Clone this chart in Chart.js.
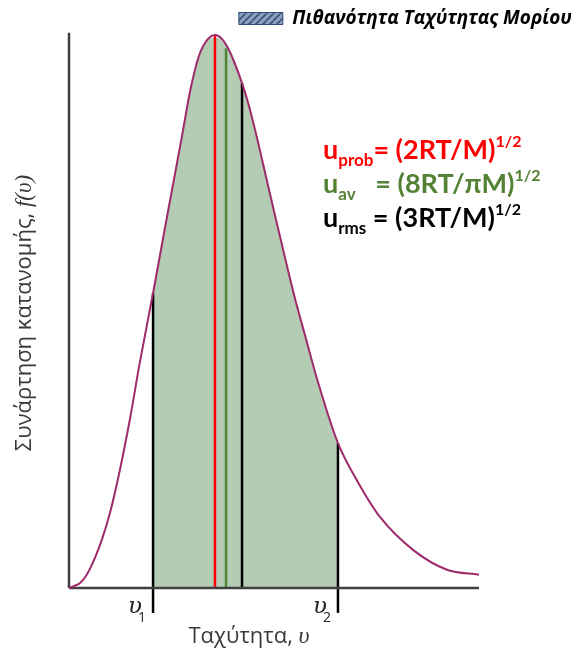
<!DOCTYPE html>
<html><head><meta charset="utf-8">
<script src="https://cdn.jsdelivr.net/npm/chart.js@4.4.1/dist/chart.umd.min.js"></script>
<style>html,body{margin:0;padding:0;background:#fff}#wrap{width:581px;height:653px;position:relative}</style>
</head><body><div id="wrap"><canvas id="c"></canvas></div>
<script>
// Speed (relative units) and distribution function f(v) (relative, peak = 100)
const speeds  = [0,1,2.7,4.4,6.3,8.0,10.0,12.4,14.9,17.3,20.5,23.4,25.4,27.6,29.5,31.5,33.2,35.6,37.3,38.5,40.2,42.2,43.7,45.4,47.8,50.2,52.7,55.1,57.6,60.7,65.6,70.2,75.9,83.9,92.2,100];
const density = [0,0.3,0.9,2.5,5.4,8.7,13.6,21.3,30.7,40.9,53.3,65.1,73.1,81.9,89.7,95.8,98.6,100,99.3,98.0,95.3,91.3,87.7,82.8,75.2,67.5,59.7,52.4,45.6,37.3,26.2,19.5,12.8,6.9,3.3,2.4];
// Characteristic speeds: v1, u_prob, u_av, u_rms, v2
const markerNames   = ['v1','uprob','uav','urms','v2'];
const markerSpeeds  = [20.5,35.6,38.3,42.2,65.6];
const markerHeights = [53.3,100,97.6,91.3,26.2];
const markerBottoms = [-4.5,0,0,0,-4.5];
const axisTop = 100.4;
const legendLabel = 'Πιθανότητα Ταχύτητας Μορίου';
const xTitle = 'Ταχύτητα, ';
const xTitleVar = 'υ';
const yTitle = 'Συνάρτηση κατανομής, ';
const yTitleVar = 'f(υ)';
const formulaLines = [
  {main:'u', sub:'prob', rest:'= (2RT/M)', sup:'1/2'},
  {main:'u', sub:'av',   rest:'   = (8RT/πM)', sup:'1/2'},
  {main:'u', sub:'rms',  rest:' = (3RT/M)', sup:'1/2'}
];

const markerColors = ['#000000','#ff0000','#548235','#000000','#000000'];
const formulaColors = ['#ff0000','#548235','#000000'];
const fillColor = '#b5ccb4';
const axisColor = '#404040';

const pattern = (()=>{
  const c=document.createElement('canvas'); c.width=7; c.height=7; const g=c.getContext('2d');
  g.fillStyle='#8b9fbf'; g.fillRect(0,0,7,7);
  g.strokeStyle='#3e5579'; g.lineWidth=1.8;
  for (const o of [-7,0,7]) { g.beginPath(); g.moveTo(o,7); g.lineTo(o+7,0); g.stroke(); }
  return g.createPattern(c,'repeat');
})();

const curvePts = speeds.map((s,i)=>({x:s,y:density[i]}));

function drawRuns(ctx, x, y, runs, align){
  let w=0; runs.forEach(r=>{ctx.font=r[1]; r.w=ctx.measureText(r[0]).width; w+=r.w;});
  let cx = align==='center'? x-w/2 : align==='right'? x-w : x;
  runs.forEach(r=>{ctx.font=r[1]; ctx.fillStyle=r[2]; ctx.fillText(r[0], cx, y+(r[3]||0)); cx+=r.w;});
  return w;
}

const textPlugin = {
  id:'texts',
  afterDraw(chart){
    const ctx=chart.ctx, xs=chart.scales.x;
    ctx.save();
    ctx.textBaseline='alphabetic';
    const gray='#3a3a3a';
    // y title
    ctx.save();
    ctx.translate(31, 313); ctx.rotate(-Math.PI/2);
    drawRuns(ctx,0,0,[[yTitle,'22px "Open Sans"',gray],[yTitleVar,'italic 23px "Liberation Serif"',gray]],'center');
    ctx.restore();
    // x title
    drawRuns(ctx,249,643,[[xTitle,'22px "Open Sans"',gray],[xTitleVar,'italic 24px "Liberation Serif"',gray]],'center');
    // v1, v2 labels
    [[0,'1'],[4,'2']].forEach(([i,s])=>{
      const px = xs.getPixelForValue(markerSpeeds[i]);
      drawRuns(ctx,px-11,613,[['υ','italic 23px "DejaVu Serif"','#222']],'right');
      drawRuns(ctx,px-15,622,[[s,'14px "Open Sans"','#222']],'left');
    });
    // formulas
    formulaLines.forEach((f,i)=>{
      const c=formulaColors[i]; const by=159+i*34;
      drawRuns(ctx,323,by,[[f.main,'bold 27px Lato',c],[f.sub,'bold 17px Lato',c,7],[f.rest,'bold 27px Lato',c],[f.sup,'bold 16px Lato',c,-12]],'left');
    });
    ctx.restore();
  }
};

new Chart(document.getElementById('c'), {
  type:'line',
  data:{datasets:[
    {label:'f(v)', data:curvePts, borderColor:'#9e2a6b', borderWidth:2, pointRadius:0, cubicInterpolationMode:'monotone', fill:false, order:1, clip:false},
    ...markerSpeeds.map((s,i)=>({label:markerNames[i], data:[{x:s,y:markerBottoms[i]},{x:s,y:markerHeights[i]}], borderColor:markerColors[i], borderWidth:2.5, pointRadius:0, fill:false, order:3, clip:false})),
    {label:'xaxis', data:[{x:0,y:0},{x:100,y:0}], borderColor:axisColor, borderWidth:2.5, pointRadius:0, fill:false, order:2, clip:false},
    {label:'yaxis', data:[{x:0,y:0},{x:0,y:axisTop}], borderColor:axisColor, borderWidth:2.5, pointRadius:0, fill:false, order:2, clip:false},
    {label:'area', data:curvePts, borderWidth:0, borderColor:'rgba(0,0,0,0)', pointRadius:0, cubicInterpolationMode:'monotone', fill:'origin', order:6, clip:false,
     backgroundColor:(c)=>{
       const ch=c.chart; if(!ch.chartArea) return fillColor;
       const xs=ch.scales.x; const a=xs.getPixelForValue(markerSpeeds[0])/ch.width, b=xs.getPixelForValue(markerSpeeds[4])/ch.width;
       const g=ch.ctx.createLinearGradient(0,0,ch.width,0); const t='rgba(181,204,180,0)';
       g.addColorStop(0,t); g.addColorStop(a,t); g.addColorStop(a,fillColor); g.addColorStop(b,fillColor); g.addColorStop(b,t); g.addColorStop(1,t);
       return g;
     }}
  ]},
  options:{
    responsive:true, maintainAspectRatio:false, animation:false,
    layout:{padding:{left:69,right:4,top:4,bottom:65}},
    scales:{
      x:{type:'linear', min:0, max:123.9, display:true, ticks:{display:false}, grid:{display:false, drawTicks:false}, border:{display:false}, afterFit:s=>{s.height=0;}},
      y:{type:'linear', min:0, max:99.46, display:true, ticks:{display:false}, grid:{display:false, drawTicks:false}, border:{display:false}, afterFit:s=>{s.width=0;}}
    },
    plugins:{
      tooltip:{enabled:false},
      legend:{display:true, position:'top', align:'end',
        labels:{boxWidth:44, boxHeight:12, padding:5, color:'#111',
          font:{family:'"Open Sans"', size:19, weight:'bold', style:'italic'},
          generateLabels:()=>[{text:legendLabel, fillStyle:pattern, strokeStyle:'#2f4a7a', lineWidth:1, hidden:false, datasetIndex:0}]
        }}
    }
  },
  plugins:[textPlugin]
});
</script></body></html>
